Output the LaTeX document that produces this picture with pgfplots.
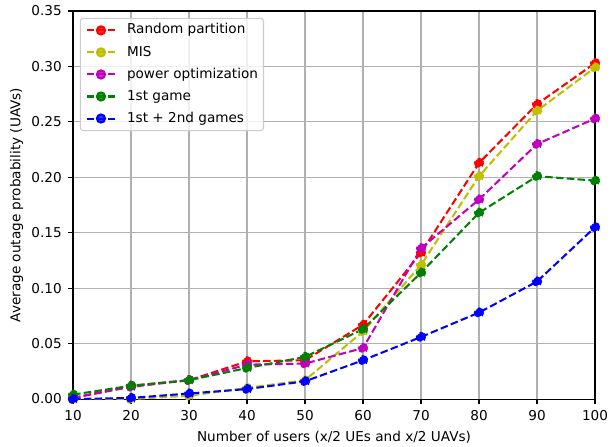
\documentclass[border=0pt]{standalone}
\usepackage{fontspec}
\setmainfont{DejaVu Sans}
\usepackage{pgfplots}
\pgfplotsset{compat=1.18}
\definecolor{mplr}{rgb}{1,0,0}
\definecolor{mply}{rgb}{0.75,0.75,0}
\definecolor{mplm}{rgb}{0.75,0,0.75}
\definecolor{mplg}{rgb}{0,0.5,0}
\definecolor{mplb}{rgb}{0,0,1}
\definecolor{gridgray}{HTML}{B0B0B0}
\definecolor{legframe}{HTML}{CCCCCC}
\begin{document}
\begin{tikzpicture}
\begin{axis}[
  scale only axis,
  width=383.8pt, height=285.3pt,
  xmin=10, xmax=100, ymin=0, ymax=0.35,
  xtick={10,20,...,100},
  ytick={0,0.05,...,0.35},
  /pgf/number format/assume math mode=true,
  tick pos=left, tick align=outside,
  major tick length=3.5pt,
  tick style={black, line width=0.8pt},
  axis line style={line width=0.8pt},
  grid=major,
  grid style={gridgray, line width=0.8pt},
  font=\fontsize{10}{12}\selectfont,
  xticklabel style={anchor=north, inner sep=0pt, text height=7.3pt, text depth=0pt},
  yticklabel style={anchor=east, inner sep=0pt, /pgf/number format/.cd, fixed, fixed zerofill, precision=2},
  xticklabel shift=4.6pt,
  yticklabel shift=4.6pt,
  xlabel={Number of users (x/2 UEs and x/2 UAVs)},
  ylabel={Average outage probability (UAVs)},
  xlabel style={at={(axis description cs:0.5,0)}, anchor=base, inner sep=0pt, yshift=-30.9pt},
  ylabel style={at={(axis description cs:-0.108,0.5)}, anchor=center},
  every axis plot/.append style={line width=1.5pt, dash pattern=on 5.55pt off 2.4pt, mark=*, mark size=3pt, mark options={solid}},
  legend cell align=left,
  legend style={at={(axis description cs:0,1)}, xshift=5pt, yshift=-5pt, anchor=north west,
    draw=legframe, line width=0.8pt, rounded corners=2pt, fill=white, fill opacity=0.8, text opacity=1,
    font=\fontsize{10}{12}\selectfont, inner xsep=4pt, inner ysep=4pt, row sep=6.5pt,
    nodes={inner sep=0pt, text height=7.5pt, text depth=2.2pt},
    /tikz/every odd column/.append style={column sep=8pt}},
  legend image code/.code={\draw[#1] (0pt,0pt) -- (20.8pt,0pt); \draw[#1, solid] plot coordinates {(10.4pt,0pt)};},
]
\addplot[color=mplr, mark options={fill=mplr, draw=mplr}] coordinates {(10,0.001)(20,0.012)(30,0.017)(40,0.034)(50,0.035)(60,0.067)(70,0.132)(80,0.213)(90,0.266)(100,0.303)};
\addlegendentry{Random partition}
\addplot[color=mply, mark options={fill=mply, draw=mply}] coordinates {(10,0.000)(20,0.000)(30,0.003)(40,0.010)(50,0.017)(60,0.061)(70,0.121)(80,0.201)(90,0.260)(100,0.299)};
\addlegendentry{MIS}
\addplot[color=mplm, mark options={fill=mplm, draw=mplm}] coordinates {(10,0.001)(20,0.011)(30,0.017)(40,0.031)(50,0.032)(60,0.046)(70,0.136)(80,0.180)(90,0.230)(100,0.253)};
\addlegendentry{power optimization}
\addplot[color=mplg, mark options={fill=mplg, draw=mplg}] coordinates {(10,0.004)(20,0.012)(30,0.017)(40,0.028)(50,0.038)(60,0.063)(70,0.114)(80,0.168)(90,0.201)(100,0.197)};
\addlegendentry{1st game}
\addplot[color=mplb, mark options={fill=mplb, draw=mplb}] coordinates {(10,0.000)(20,0.001)(30,0.005)(40,0.009)(50,0.016)(60,0.035)(70,0.056)(80,0.078)(90,0.106)(100,0.155)};
\addlegendentry{1st + 2nd games}
\end{axis}
\pgfresetboundingbox
\path[use as bounding box] ([shift={(-53.7pt,-34.6pt)}]current axis.south west) rectangle ([shift={(11pt,8.1pt)}]current axis.north east);
\end{tikzpicture}
\end{document}
